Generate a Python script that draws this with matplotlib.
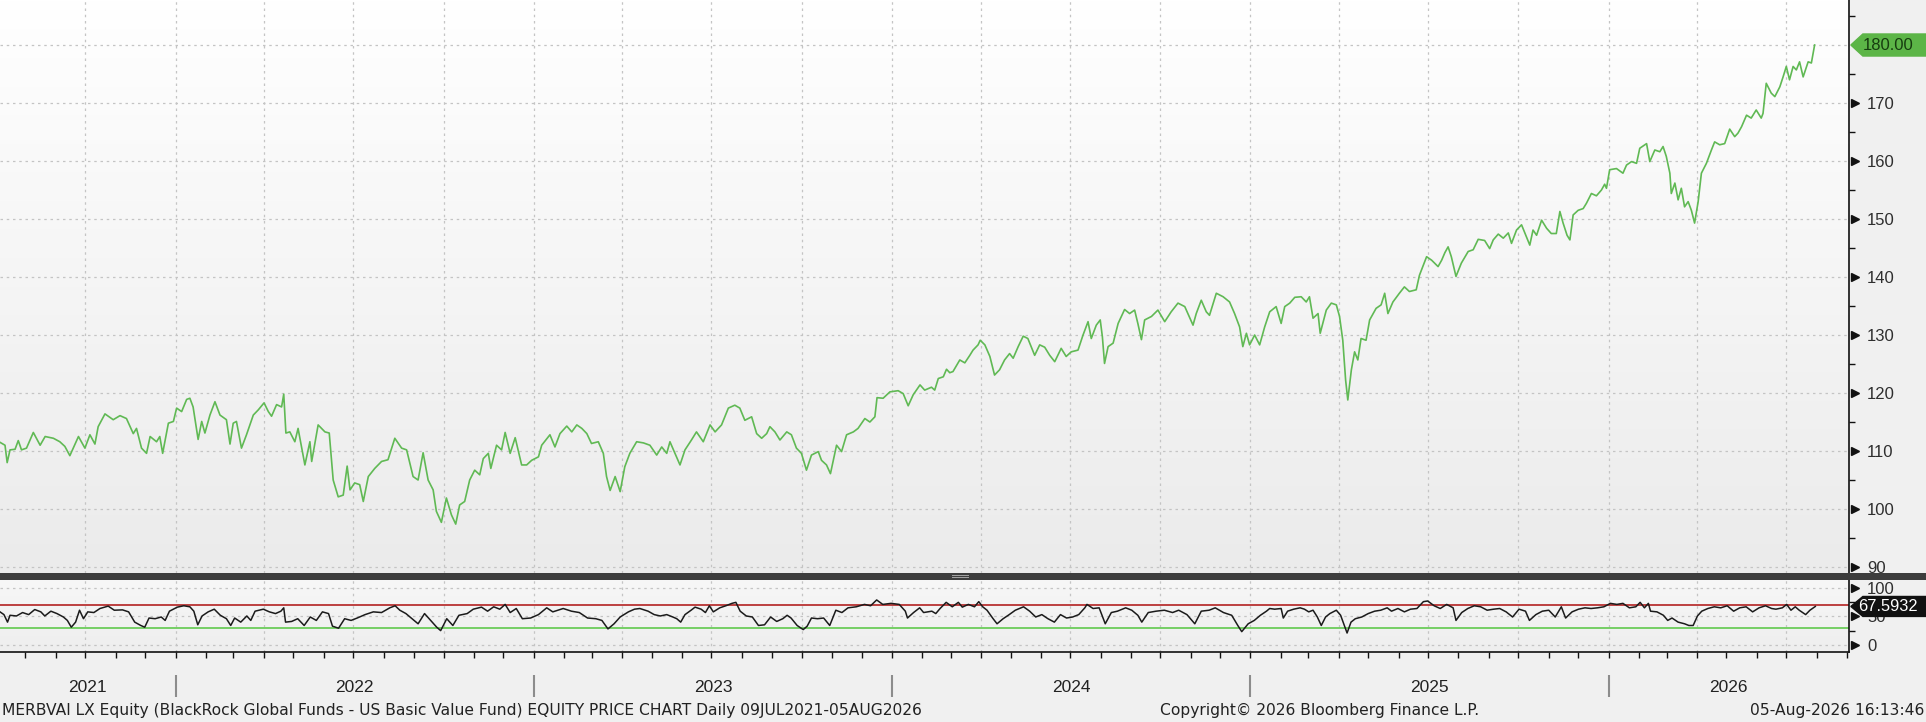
import numpy as np
import pandas as pd
import matplotlib

matplotlib.use("Agg")
import matplotlib.pyplot as plt
from matplotlib.colors import LinearSegmentedColormap
from matplotlib.patches import Polygon, Rectangle

# price series, x in decimal years
price_t = [
    2021.510, 2021.524, 2021.530, 2021.538, 2021.552, 2021.561, 2021.570, 2021.584,
    2021.603, 2021.622, 2021.636, 2021.659, 2021.677, 2021.691, 2021.705, 2021.729,
    2021.747, 2021.761, 2021.775, 2021.784, 2021.803, 2021.826, 2021.845, 2021.863,
    2021.882, 2021.891, 2021.905, 2021.919, 2021.929, 2021.947, 2021.956, 2021.964,
    2021.980, 2021.994, 2022.003, 2022.017, 2022.031, 2022.040, 2022.049, 2022.063,
    2022.073, 2022.082, 2022.096, 2022.110, 2022.124, 2022.142, 2022.152, 2022.161,
    2022.170, 2022.184, 2022.198, 2022.217, 2022.231, 2022.247, 2022.259, 2022.268,
    2022.282, 2022.296, 2022.302, 2022.308, 2022.319, 2022.333, 2022.342, 2022.361,
    2022.375, 2022.380, 2022.398, 2022.417, 2022.429, 2022.440, 2022.454, 2022.468,
    2022.479, 2022.487, 2022.500, 2022.514, 2022.524, 2022.538, 2022.556, 2022.575,
    2022.593, 2022.612, 2022.631, 2022.645, 2022.663, 2022.677, 2022.691, 2022.705,
    2022.719, 2022.728, 2022.742, 2022.756, 2022.770, 2022.782, 2022.793, 2022.807,
    2022.821, 2022.835, 2022.849,
    2022.859, 2022.873, 2022.880, 2022.896, 2022.910, 2022.920, 2022.934, 2022.948,
    2022.966, 2022.980, 2022.994, 2023.013, 2023.022, 2023.045, 2023.059, 2023.073,
    2023.092, 2023.106, 2023.120, 2023.134, 2023.148, 2023.161, 2023.180, 2023.194,
    2023.203, 2023.213, 2023.227, 2023.241, 2023.254, 2023.268, 2023.287, 2023.306,
    2023.324, 2023.343, 2023.357, 2023.371, 2023.380, 2023.394, 2023.408, 2023.422,
    2023.440, 2023.454, 2023.473, 2023.492, 2023.506, 2023.524, 2023.543, 2023.561,
    2023.575, 2023.589, 2023.608, 2023.622, 2023.636, 2023.650, 2023.659, 2023.673,
    2023.687, 2023.706, 2023.719, 2023.733, 2023.747, 2023.761, 2023.775, 2023.794,
    2023.803, 2023.817, 2023.828, 2023.845, 2023.859, 2023.873, 2023.892, 2023.905,
    2023.924, 2023.938, 2023.952, 2023.958, 2023.975, 2023.994, 2024.017, 2024.031,
    2024.045, 2024.059, 2024.078, 2024.091, 2024.110, 2024.119, 2024.129, 2024.143,
    2024.152, 2024.161,
    2024.170, 2024.189, 2024.203, 2024.217, 2024.226, 2024.240, 2024.246, 2024.259,
    2024.273, 2024.286, 2024.300, 2024.314, 2024.328, 2024.338, 2024.352, 2024.366,
    2024.379, 2024.398, 2024.412, 2024.426, 2024.440, 2024.454, 2024.472, 2024.486,
    2024.500, 2024.519, 2024.533, 2024.547, 2024.556, 2024.570, 2024.581, 2024.587,
    2024.593, 2024.603, 2024.617, 2024.631, 2024.649, 2024.663, 2024.677, 2024.686,
    2024.696, 2024.705, 2024.724, 2024.742, 2024.761, 2024.779, 2024.798, 2024.817,
    2024.840, 2024.849, 2024.863, 2024.877, 2024.886, 2024.905, 2024.924, 2024.942,
    2024.956, 2024.970, 2024.979, 2024.989, 2024.998, 2025.012, 2025.026, 2025.040,
    2025.054, 2025.072, 2025.086, 2025.096, 2025.110, 2025.124, 2025.142, 2025.156,
    2025.165, 2025.175, 2025.189, 2025.195, 2025.212, 2025.226, 2025.240, 2025.249,
    2025.258, 2025.266, 2025.272, 2025.282, 2025.291, 2025.300, 2025.309, 2025.323,
    2025.333, 2025.351, 2025.365, 2025.375, 2025.384, 2025.398, 2025.416, 2025.430,
    2025.444, 2025.463, 2025.472,
    2025.492, 2025.506, 2025.524, 2025.534, 2025.543, 2025.552, 2025.561, 2025.574,
    2025.589, 2025.608, 2025.622, 2025.636, 2025.654, 2025.668, 2025.678, 2025.692,
    2025.706, 2025.720, 2025.729, 2025.743, 2025.757, 2025.771, 2025.780, 2025.789,
    2025.799, 2025.813, 2025.827, 2025.840, 2025.854, 2025.864, 2025.873, 2025.884,
    2025.892, 2025.901, 2025.915, 2025.929, 2025.938, 2025.952, 2025.966, 2025.980,
    2025.989, 2025.994, 2026.003, 2026.022, 2026.040, 2026.050, 2026.064, 2026.078,
    2026.087, 2026.106, 2026.115, 2026.129, 2026.143, 2026.152, 2026.161, 2026.171,
    2026.175, 2026.185, 2026.194, 2026.203, 2026.212, 2026.222, 2026.231, 2026.240,
    2026.250, 2026.259, 2026.273, 2026.287, 2026.296, 2026.310, 2026.324, 2026.338,
    2026.352, 2026.361, 2026.371, 2026.385, 2026.398, 2026.412, 2026.426, 2026.431,
    2026.440, 2026.454, 2026.464, 2026.478, 2026.487, 2026.496, 2026.505, 2026.515,
    2026.524, 2026.533, 2026.543, 2026.557, 2026.566, 2026.575,
]
price_v = [
    111.5, 111.0, 108.0, 110.2, 110.3, 111.8, 110.2, 110.5,
    113.2, 111.0, 112.5, 112.2, 111.6, 110.8, 109.2, 112.5,
    110.5, 112.8, 111.2, 114.2, 116.4, 115.4, 116.1, 115.6,
    113.0, 113.9, 110.5, 109.6, 112.5, 111.6, 112.5, 109.6,
    114.8, 115.1, 117.4, 116.8, 118.9, 119.1, 117.6, 112.0,
    115.1, 113.1, 116.2, 118.5, 116.2, 115.4, 111.2, 114.8,
    115.1, 110.5, 112.8, 116.2, 117.1, 118.3, 116.8, 116.0,
    118.0, 117.6, 119.8, 113.1, 113.3, 111.6, 113.9, 107.6,
    111.6, 108.2, 114.5, 113.3, 113.1, 105.0, 102.1, 102.4,
    107.4, 103.3, 104.5, 104.2, 101.3, 105.6, 107.0, 108.2,
    108.5, 112.2, 110.5, 110.2, 105.6, 105.0, 109.7, 105.0,
    103.3, 99.6, 97.7, 101.9, 99.0, 97.4, 100.7, 101.3,
    105.0, 106.7, 105.9,
    108.7, 109.6, 107.0, 111.0, 110.2, 113.2, 109.6, 112.3,
    107.6, 107.6, 108.4, 109.0, 111.0, 112.8, 110.7, 113.0,
    114.3, 113.3, 114.5, 113.9, 113.0, 111.3, 111.6, 109.6,
    105.6, 103.2, 105.6, 103.0, 107.3, 109.6, 111.6, 111.4,
    111.0, 109.3, 110.7, 109.6, 111.6, 109.6, 107.6, 110.2,
    111.9, 113.3, 111.6, 114.5, 113.3, 114.5, 117.4, 117.9,
    117.4, 115.3, 115.9, 113.0, 112.2, 113.0, 114.2, 113.3,
    111.9, 113.3, 112.8, 110.5, 109.6, 106.7, 109.3, 109.9,
    108.4, 107.6, 106.1, 111.0, 109.9, 112.8, 113.3, 113.9,
    115.6, 115.0, 115.9, 119.2, 119.1, 120.2, 120.4, 119.9,
    117.8, 119.7, 121.4, 120.5, 121.0, 120.5, 122.5, 122.8,
    124.1, 123.5,
    123.7, 125.7, 125.2, 126.5, 127.4, 128.3, 129.1, 128.3,
    126.3, 123.1, 124.0, 125.7, 126.8, 126.0, 128.0, 129.8,
    129.4, 126.5, 128.3, 127.9, 126.5, 125.4, 127.7, 126.3,
    127.1, 127.4, 130.0, 132.3, 129.4, 131.7, 132.6, 129.7,
    125.1, 128.0, 128.6, 132.0, 134.4, 133.7, 134.3, 132.0,
    129.2, 132.6, 133.2, 134.3, 132.3, 134.0, 135.5, 134.9,
    131.7, 133.7, 136.0, 134.0, 133.4, 137.2, 136.6, 135.7,
    133.7, 131.4, 128.0, 130.3, 128.3, 130.0, 128.3, 131.4,
    134.0, 134.9, 132.0, 134.9, 135.5, 136.5, 136.6, 135.7,
    136.6, 132.9, 133.7, 130.3, 134.3, 135.5, 135.2, 133.2,
    129.1, 122.2, 118.8, 124.0, 127.1, 125.7, 129.4, 129.1,
    132.6, 134.6, 135.2, 137.2, 133.7, 135.7, 137.2, 138.3,
    137.5, 137.8, 140.3,
    143.5, 142.9, 141.8, 142.9, 144.2, 145.2, 143.5, 140.1,
    142.4, 144.4, 144.7, 146.5, 146.3, 144.9, 146.4, 147.4,
    146.7, 147.6, 145.8, 148.1, 149.0, 146.9, 145.5, 148.1,
    147.2, 149.8, 148.4, 147.5, 147.5, 151.3, 149.3, 147.2,
    146.4, 150.7, 151.5, 151.8, 152.7, 154.4, 154.0, 155.0,
    156.0, 155.3, 158.5, 158.7, 157.9, 159.3, 159.9, 159.6,
    162.2, 163.0, 159.9, 161.9, 161.6, 162.5, 160.8, 157.9,
    154.4, 156.2, 153.3, 155.3, 152.1, 153.0, 151.5, 149.3,
    153.0, 157.9, 159.6, 161.9, 163.3, 162.8, 163.0, 165.5,
    164.2, 164.8, 165.9, 167.9, 167.4, 168.8, 167.4, 168.2,
    173.4, 171.7, 171.1, 172.8, 174.5, 176.3, 174.0, 176.3,
    175.7, 177.1, 174.5, 177.1, 176.9, 180.0,
]

# RSI study in the lower panel
rsi_t = [
    2021.510, 2021.521, 2021.531, 2021.538, 2021.556, 2021.573, 2021.590, 2021.607,
    2021.624, 2021.635, 2021.652, 2021.669, 2021.687, 2021.698, 2021.709, 2021.721,
    2021.732, 2021.743, 2021.755, 2021.772, 2021.789, 2021.812, 2021.829, 2021.852,
    2021.869, 2021.886, 2021.903, 2021.914, 2021.926, 2021.943, 2021.960, 2021.971,
    2021.983, 2022.005, 2022.023, 2022.040, 2022.051, 2022.062, 2022.074, 2022.091,
    2022.108, 2022.125, 2022.142, 2022.154, 2022.165, 2022.182, 2022.199, 2022.210,
    2022.222, 2022.245, 2022.262, 2022.279, 2022.294, 2022.302, 2022.307, 2022.324,
    2022.341, 2022.359, 2022.376, 2022.393, 2022.410, 2022.427, 2022.438, 2022.455,
    2022.472, 2022.490, 2022.507, 2022.529, 2022.552, 2022.575, 2022.598, 2022.613,
    2022.626, 2022.643, 2022.660, 2022.677, 2022.695, 2022.712, 2022.729, 2022.740,
    2022.757, 2022.774, 2022.791, 2022.814, 2022.831, 2022.854, 2022.871, 2022.888,
    2022.905, 2022.920, 2022.934, 2022.951, 2022.968, 2022.991, 2023.013, 2023.036,
    2023.053, 2023.082, 2023.105, 2023.127, 2023.150, 2023.173, 2023.190, 2023.207,
    2023.224, 2023.241, 2023.264, 2023.281, 2023.296,
    2023.319, 2023.336, 2023.353, 2023.371, 2023.388, 2023.399, 2023.410, 2023.422,
    2023.439, 2023.450, 2023.467, 2023.479, 2023.490, 2023.501, 2023.519, 2023.536,
    2023.553, 2023.564, 2023.576, 2023.593, 2023.610, 2023.627, 2023.644, 2023.661,
    2023.678, 2023.695, 2023.707, 2023.718, 2023.735, 2023.752, 2023.763, 2023.775,
    2023.792, 2023.809, 2023.826, 2023.843, 2023.860, 2023.877, 2023.900, 2023.923,
    2023.940, 2023.957, 2023.974, 2023.997, 2024.020, 2024.037, 2024.043, 2024.060,
    2024.077, 2024.088, 2024.111, 2024.122, 2024.134, 2024.151, 2024.168, 2024.185,
    2024.196, 2024.213, 2024.230, 2024.242, 2024.253, 2024.265, 2024.282, 2024.293,
    2024.310, 2024.327, 2024.344, 2024.367, 2024.384, 2024.401, 2024.418, 2024.435,
    2024.453, 2024.470, 2024.487, 2024.504, 2024.521, 2024.538, 2024.544, 2024.561,
    2024.578, 2024.595, 2024.612, 2024.629, 2024.652, 2024.669, 2024.686, 2024.697,
    2024.715, 2024.737, 2024.760, 2024.783, 2024.800, 2024.823, 2024.845, 2024.863,
    2024.885, 2024.902, 2024.925, 2024.948, 2024.965, 2024.976, 2024.994, 2025.011,
    2025.028, 2025.045, 2025.054,
    2025.068, 2025.086, 2025.092, 2025.104, 2025.121, 2025.139, 2025.151, 2025.163,
    2025.175, 2025.187, 2025.198, 2025.210, 2025.222, 2025.240, 2025.252, 2025.264,
    2025.270, 2025.281, 2025.293, 2025.311, 2025.329, 2025.347, 2025.364, 2025.382,
    2025.394, 2025.412, 2025.430, 2025.447, 2025.465, 2025.483, 2025.495, 2025.513,
    2025.530, 2025.548, 2025.566, 2025.574, 2025.590, 2025.607, 2025.625, 2025.643,
    2025.661, 2025.679, 2025.696, 2025.714, 2025.732, 2025.750, 2025.768, 2025.779,
    2025.797, 2025.815, 2025.833, 2025.851, 2025.868, 2025.880, 2025.898, 2025.916,
    2025.934, 2025.951, 2025.969, 2025.987, 2026.005, 2026.023, 2026.040, 2026.058,
    2026.076, 2026.088, 2026.100, 2026.111, 2026.117, 2026.135, 2026.153, 2026.165,
    2026.177, 2026.194, 2026.212, 2026.224, 2026.236, 2026.248, 2026.260, 2026.277,
    2026.295, 2026.313, 2026.331, 2026.349, 2026.366, 2026.384, 2026.402, 2026.420,
    2026.438, 2026.455, 2026.467, 2026.485, 2026.497, 2026.509, 2026.521, 2026.532,
    2026.550, 2026.562, 2026.577,
]
rsi_v = [
    58.1, 53.3, 40.1, 52.1, 50.9, 56.9, 53.3, 62.2,
    58.1, 50.9, 59.3, 55.1, 49.1, 43.1, 31.2, 40.1,
    61.0, 46.1, 58.1, 56.9, 64.0, 68.2, 61.0, 61.6,
    58.1, 40.1, 34.2, 31.2, 47.3, 46.1, 49.1, 43.1,
    59.3, 66.4, 68.8, 67.0, 59.3, 35.4, 50.9, 58.1,
    62.8, 52.1, 46.1, 34.2, 47.3, 40.1, 50.9, 43.1,
    59.3, 62.8, 58.1, 55.1, 59.3, 65.2, 40.1, 41.3,
    46.1, 34.2, 49.1, 43.1, 58.1, 55.1, 33.0, 29.4,
    46.1, 43.1, 47.3, 53.3, 58.1, 56.9, 65.2, 68.8,
    61.0, 55.1, 46.1, 37.2, 55.1, 43.1, 31.2, 25.2,
    46.1, 34.2, 52.1, 55.1, 62.8, 66.4, 59.3, 67.0,
    62.8, 71.2, 56.9, 64.0, 46.1, 47.3, 53.3, 65.2,
    58.1, 64.0, 59.3, 56.9, 47.3, 46.1, 43.1, 28.2,
    37.2, 49.1, 58.1, 62.8, 64.0,
    59.3, 53.3, 50.9, 53.3, 49.1, 46.1, 40.1, 53.3,
    61.0, 66.4, 62.8, 56.9, 68.8, 58.1, 65.2, 68.8,
    73.0, 74.8, 59.3, 50.9, 49.1, 34.2, 35.4, 49.1,
    41.3, 46.1, 52.1, 47.3, 34.2, 27.0, 33.0, 47.3,
    46.1, 47.3, 34.2, 61.0, 56.9, 65.2, 67.0, 71.2,
    68.8, 79.0, 71.2, 73.0, 71.2, 59.3, 47.3, 56.9,
    65.2, 56.9, 59.3, 55.1, 64.0, 74.8, 67.0, 74.8,
    66.4, 71.2, 67.0, 76.0, 67.0, 61.0, 46.1, 37.2,
    46.1, 53.3, 61.0, 67.0, 59.3, 49.1, 53.3, 46.1,
    40.1, 53.3, 47.3, 49.1, 53.3, 65.2, 71.2, 64.0,
    65.2, 37.2, 56.9, 59.3, 65.2, 61.0, 52.1, 40.1,
    56.9, 59.3, 61.0, 56.9, 61.0, 53.3, 37.2, 59.3,
    61.0, 65.2, 56.9, 52.1, 34.2, 23.4, 37.2, 43.1,
    52.1, 59.3, 64.0,
    62.8, 64.0, 47.3, 59.3, 62.8, 65.2, 62.8, 58.1,
    61.0, 49.1, 34.2, 49.1, 55.1, 61.0, 52.1, 31.2,
    21.0, 40.1, 46.1, 49.1, 55.1, 59.3, 61.0, 65.2,
    59.3, 64.0, 58.1, 62.8, 64.0, 76.0, 77.2, 68.8,
    64.0, 71.2, 65.2, 43.1, 56.9, 64.0, 68.8, 67.0,
    61.0, 62.8, 64.0, 58.1, 49.1, 62.8, 59.3, 43.1,
    53.3, 59.3, 61.0, 49.1, 67.0, 47.3, 58.1, 62.8,
    65.2, 64.0, 65.2, 67.0, 73.0, 71.2, 73.0, 65.2,
    67.0, 74.8, 65.2, 73.0, 59.3, 58.1, 52.1, 43.1,
    47.3, 40.1, 37.2, 34.2, 34.2, 50.9, 59.3, 64.0,
    67.0, 65.2, 68.8, 59.3, 65.2, 67.0, 58.1, 65.2,
    68.8, 64.0, 62.8, 65.2, 71.2, 61.0, 67.0, 61.0,
    53.3, 61.0, 67.5932,
]
assert len(price_t) == len(price_v) and len(rsi_t) == len(rsi_v)

last_price = 180.00
last_rsi = 67.5932
rsi_upper, rsi_lower = 70, 30
price_ticks = list(range(90, 180, 10))
rsi_ticks = [0, 50, 100]
years = [2021, 2022, 2023, 2024, 2025, 2026]
footer_left = ("MERBVAI LX Equity (BlackRock Global Funds - US Basic Value Fund) "
               "EQUITY PRICE CHART Daily 09JUL2021-05AUG2026")
footer_mid = "Copyright\u00a9 2026 Bloomberg Finance L.P."
footer_right = "05-Aug-2026 16:13:46"

X_START, X_END = 2021.510, 2026.671
W, H = 1926, 722
AXIS_FONT = "Liberation Sans"


def decimal_year(ts: pd.Timestamp) -> float:
    days = 366 if ts.is_leap_year else 365
    return ts.year + (ts.dayofyear - 1) / days


def shade(axis, top: str, bottom: str) -> None:
    cmap = LinearSegmentedColormap.from_list("bg", [bottom, top])
    axis.imshow(np.linspace(0, 1, 256)[:, None], extent=(0, 1, 0, 1), origin="lower",
                transform=axis.transAxes, cmap=cmap, aspect="auto", zorder=0)


def pointer_ticks(axis, values) -> None:
    axis.plot([1.0035] * len(values), values, linestyle="none", marker=">", markersize=6,
              color="#111111", transform=axis.get_yaxis_transform(), clip_on=False, zorder=4)


def value_tag(axis, value, text, face, text_color, half, size) -> None:
    right = W / 1849
    shape = Polygon([(1.001, value), (1.0075, value + half), (right, value + half),
                     (right, value - half), (1.0075, value - half)], closed=True,
                    transform=axis.get_yaxis_transform(), facecolor=face,
                    edgecolor=face, clip_on=False, zorder=6)
    axis.add_patch(shape)
    axis.text(1.0212, value, text, transform=axis.get_yaxis_transform(), ha="center",
              va="center", fontsize=size, family=AXIS_FONT, color=text_color,
              zorder=7, clip_on=False)


def right_labels(axis) -> None:
    axis.tick_params(axis="y", which="major", length=0, pad=13, labelsize=12,
                     labelcolor="#2e2e2e")
    for label in axis.get_yticklabels():
        label.set_family(AXIS_FONT)


months = pd.date_range("2021-08-01", "2026-09-01", freq="MS")
month_pos = [decimal_year(m) for m in months]
quarter_pos = [decimal_year(m) for m in months if m.month in (1, 4, 7, 10)]

fig = plt.figure(figsize=(W / 100, H / 100), dpi=100, facecolor="#f0f0f0")
ax = fig.add_axes([0, 1 - 573 / H, 1849 / W, 573 / H])
rsi_ax = fig.add_axes([0, 1 - 652 / H, 1849 / W, 72 / H])

grid_kw = dict(color="#c4c4c4", linestyle=(0, (2, 3)), linewidth=0.9)

# price panel
shade(ax, "#ffffff", "#ebebeb")
ax.plot(price_t, price_v, color="#60b954", linewidth=1.2, zorder=3)
ax.set_xlim(X_START, X_END)
ax.set_ylim(88.97, 187.76)
ax.set_xticks(quarter_pos)
ax.tick_params(axis="x", which="both", length=0, labelbottom=False)
ax.yaxis.tick_right()
ax.set_yticks(price_ticks + [180])
ax.set_yticklabels([str(t) for t in price_ticks] + [""])
ax.set_yticks(np.arange(95, 190, 10), minor=True)
right_labels(ax)
ax.tick_params(axis="y", which="minor", length=4, width=1, direction="out", color="#111111")
ax.grid(True, which="major", **grid_kw)
for side in ("left", "top", "bottom"):
    ax.spines[side].set_visible(False)
ax.spines["right"].set_linewidth(1.2)
ax.spines["right"].set_color("#111111")
pointer_ticks(ax, price_ticks)
value_tag(ax, last_price, f"{last_price:.2f}", "#5cb547", "#173d10", 1.9, 12)

# RSI panel
shade(rsi_ax, "#f7f7f7", "#eeeeee")
rsi_ax.axhline(rsi_upper, color="#b83232", linewidth=1.3, zorder=2)
rsi_ax.axhline(rsi_lower, color="#6ccc5a", linewidth=1.3, zorder=2)
rsi_ax.plot(rsi_t, rsi_v, color="#1b1b1b", linewidth=1.1, zorder=3)
rsi_ax.set_xlim(X_START, X_END)
rsi_ax.set_ylim(-12.3, 114)
rsi_ax.set_xticks(quarter_pos)
rsi_ax.set_xticks(month_pos, minor=True)
rsi_ax.tick_params(axis="x", which="both", direction="out", length=4, width=1,
                   color="#111111", labelbottom=False)
rsi_ax.yaxis.tick_right()
rsi_ax.set_yticks(rsi_ticks)
rsi_ax.set_yticks([25, 75], minor=True)
right_labels(rsi_ax)
rsi_ax.tick_params(axis="y", which="minor", length=4, width=1, direction="out", color="#111111")
rsi_ax.grid(True, which="major", **grid_kw)
for side in ("left", "top"):
    rsi_ax.spines[side].set_visible(False)
for side in ("right", "bottom"):
    rsi_ax.spines[side].set_linewidth(1.2)
    rsi_ax.spines[side].set_color("#111111")
pointer_ticks(rsi_ax, rsi_ticks)
value_tag(rsi_ax, last_rsi, f"{last_rsi:.4f}", "#111111", "#ffffff", 17.5, 11.8)

# year band under the panels
xt = rsi_ax.get_xaxis_transform()
rsi_ax.vlines(years[1:], -0.32, -0.63, transform=xt, color="#8c8c8c", linewidth=1.5, clip_on=False)
for year in years:
    lo, hi = max(year, X_START), min(year + 1, X_END)
    rsi_ax.text((lo + hi) / 2, -0.49, str(year), transform=xt, ha="center", va="center",
                fontsize=12.5, family=AXIS_FONT, color="#222222")

# splitter between the panels
fig.add_artist(Rectangle((0, 1 - 580 / H), 1, 7 / H, transform=fig.transFigure,
                         facecolor="#3d3d3d", edgecolor="none", zorder=3))
for yy in (575.5, 578):
    fig.add_artist(Rectangle((952 / W, 1 - yy / H), 17 / W, 1 / H, transform=fig.transFigure,
                             facecolor="#a0a0a0", edgecolor="none", zorder=4))

foot_kw = dict(va="center", fontsize=11.2, color="#222222")
fig.text(2 / W, 1 - 710 / H, footer_left, ha="left", **foot_kw)
fig.text(1320 / W, 1 - 710 / H, footer_mid, ha="center", **foot_kw)
fig.text(1 - 2 / W, 1 - 710 / H, footer_right, ha="right", **foot_kw)

fig.savefig("out.png", dpi=100, facecolor=fig.get_facecolor())
